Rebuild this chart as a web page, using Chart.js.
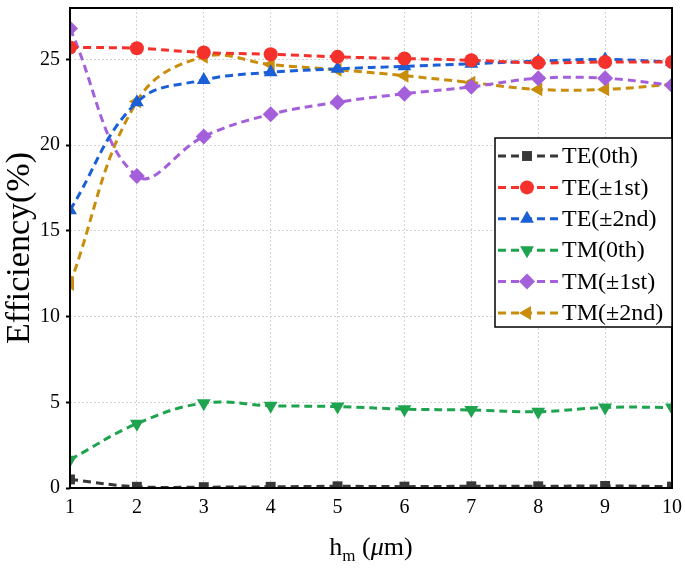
<!DOCTYPE html>
<html>
<head>
<meta charset="utf-8">
<script src="https://cdn.jsdelivr.net/npm/chart.js@4.4.0/dist/chart.umd.min.js"></script>
<style>
html, body { margin: 0; padding: 0; background: #fff; }
#wrap { width: 685px; height: 569px; }
</style>
</head>
<body>
<div id="wrap"><canvas id="effChart"></canvas></div>
<script>
const hm = [1, 2, 3, 4, 5, 6, 7, 8, 9, 10]
const seriesNames = ['TE(0th)', 'TE(±1st)', 'TE(±2nd)', 'TM(0th)', 'TM(±1st)', 'TM(±2nd)']
const teZero = [0.5, 0.07, 0.05, 0.07, 0.1, 0.08, 0.1, 0.1, 0.12, 0.08]
const teFirst = [25.7, 25.65, 25.4, 25.3, 25.15, 25.05, 24.95, 24.8, 24.85, 24.85]
const teSecond = [16.2, 22.5, 23.8, 24.25, 24.45, 24.6, 24.75, 24.9, 25.0, 24.85]
const tmZero = [1.65, 3.75, 4.95, 4.8, 4.75, 4.6, 4.55, 4.45, 4.7, 4.7]
const tmFirst = [26.8, 18.2, 20.5, 21.8, 22.5, 23.0, 23.4, 23.9, 23.9, 23.5]
const tmSecond = [11.9, 22.55, 25.15, 24.7, 24.4, 24.05, 23.65, 23.25, 23.25, 23.55]
const yMax = 28
const yStep = 5

const allSeries = [teZero, teFirst, teSecond, tmZero, tmFirst, tmSecond]
const colors = ['#383838', '#f5312b', '#1a5fd6', '#1ea34f', '#a45fdb', '#c98d0b']
const markers = [
    { style: 'rect', rot: 0, r: 7 },
    { style: 'circle', rot: 0, r: 7 },
    { style: 'triangle', rot: 0, r: 8 },
    { style: 'triangle', rot: 180, r: 8 },
    { style: 'rectRot', rot: 0, r: 8 },
    { style: 'triangle', rot: -90, r: 8 }
]
const serif = '"Liberation Serif", "Times New Roman", serif'

let datasets = allSeries.map((vals, i) => ({
    label: seriesNames[i],
    data: vals.map((v, j) => ({ x: hm[j], y: v })),
    borderColor: colors[i],
    backgroundColor: colors[i],
    borderWidth: 3,
    borderDash: [8, 5],
    tension: 0.4,
    pointStyle: markers[i].style,
    rotation: markers[i].rot,
    pointRadius: markers[i].r,
    pointBorderWidth: 0,
    fill: false
}))

// frame around the plot, legend box, x title with subscript
const framePlugin = {
    id: 'frame',
    afterDraw(chart) {
        const c = chart.ctx
        const a = chart.chartArea
        c.save()
        c.strokeStyle = '#000'
        c.lineWidth = 2
        c.strokeRect(a.left, a.top, a.right - a.left, a.bottom - a.top)

        // legend
        let bx = 495, by = 138, bw = a.right - bx, bh = 189
        c.fillStyle = '#fff'
        c.fillRect(bx, by, bw, bh)
        c.lineWidth = 1.5
        c.strokeRect(bx, by, bw, bh)
        c.font = '24px ' + serif
        c.textBaseline = 'middle'
        chart.data.datasets.forEach((ds, i) => {
            let y = by + 18 + i * 31.4
            c.strokeStyle = ds.borderColor
            c.fillStyle = ds.borderColor
            c.lineWidth = 3
            c.setLineDash([8, 5])
            c.beginPath()
            c.moveTo(498, y)
            c.lineTo(558, y)
            c.stroke()
            c.setLineDash([])
            Chart.helpers.drawPoint(c, { pointStyle: ds.pointStyle, rotation: ds.rotation, radius: ds.pointRadius, borderWidth: 0 }, 527, y)
            c.fillStyle = '#000'
            c.fillText(ds.label, 562, y + 1)
        })

        // x axis title: h_m (μm)
        const parts = [
            ['h', '26px ' + serif, 0],
            ['m', '17px ' + serif, 6],
            [' (', '26px ' + serif, 0],
            ['μ', 'italic 26px ' + serif, 0],
            ['m)', '26px ' + serif, 0]
        ]
        let total = 0
        parts.forEach(p => { c.font = p[1]; total += c.measureText(p[0]).width })
        let tx = (a.left + a.right) / 2 - total / 2
        c.textBaseline = 'alphabetic'
        c.fillStyle = '#000'
        parts.forEach(p => {
            c.font = p[1]
            c.fillText(p[0], tx, 555 + p[2])
            tx += c.measureText(p[0]).width
        })
        c.restore()
    }
}

const effChart = new Chart(document.getElementById('effChart'), {
    type: 'line',
    data: { datasets: datasets },
    options: {
        responsive: true,
        maintainAspectRatio: false,
        animation: false,
        layout: { padding: { top: 4, right: 13, left: 0, bottom: 0 } },
        plugins: {
            legend: { display: false },
            tooltip: { enabled: false }
        },
        scales: {
            x: {
                type: 'linear',
                min: 1,
                max: 10,
                ticks: { stepSize: 1, color: '#000', font: { family: serif, size: 20 }, padding: 8 },
                grid: { color: '#d4d4d4', drawTicks: false },
                border: { display: false, dash: [2, 2] },
                afterFit: (s) => { s.height = 81; s.paddingLeft = 0; s.paddingRight = 0 }
            },
            y: {
                min: 0,
                max: yMax,
                ticks: { stepSize: yStep, includeBounds: false, color: '#000', font: { family: serif, size: 20 }, padding: 6 },
                grid: { color: '#d4d4d4', tickColor: '#000', tickLength: 4, tickWidth: 2 },
                border: { display: false, dash: [2, 2] },
                title: { display: true, text: 'Efficiency(%)', color: '#000', font: { family: serif, size: 34 }, padding: 0 },
                afterFit: (s) => { s.width = 70; s.paddingTop = 0; s.paddingBottom = 0 }
            }
        }
    },
    plugins: [framePlugin]
})
</script>
</body>
</html>
